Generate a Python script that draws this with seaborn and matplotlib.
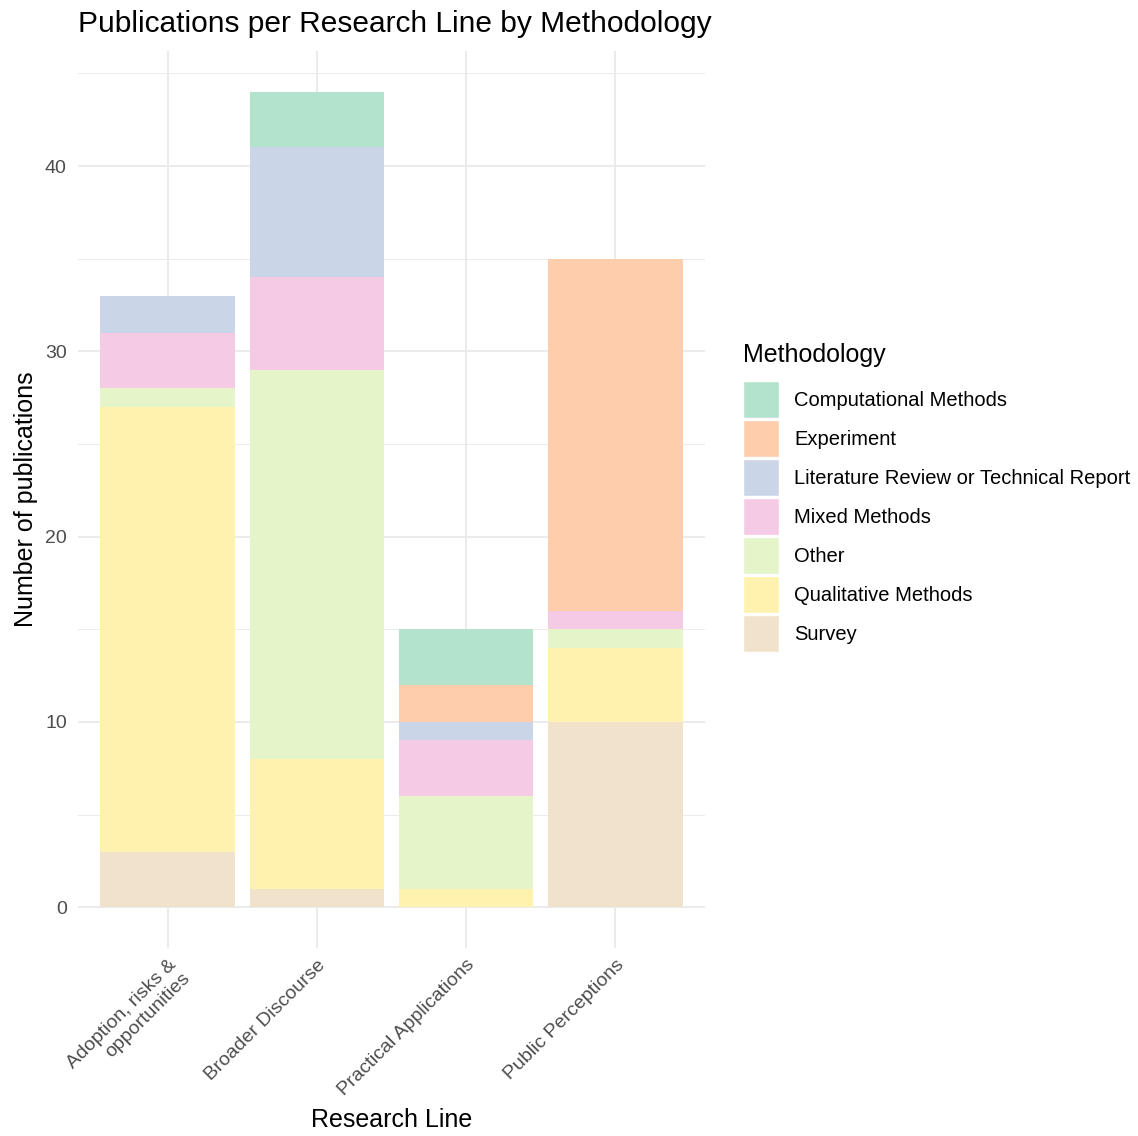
import numpy as np
import pandas as pd
import matplotlib
matplotlib.use("Agg")
import matplotlib.pyplot as plt
from matplotlib.patches import Patch
import seaborn as sns

# ---- data ----
research_lines = ["Adoption, risks &\nopportunities", "Broader Discourse",
                  "Practical Applications", "Public Perceptions"]
methodologies = ["Computational Methods", "Experiment",
                 "Literature Review or Technical Report", "Mixed Methods",
                 "Other", "Qualitative Methods", "Survey"]

computational = [0, 3, 3, 0]
experiment = [0, 0, 2, 19]
lit_review = [2, 7, 1, 0]
mixed = [3, 5, 3, 1]
other = [1, 21, 5, 1]
qualitative = [24, 7, 1, 4]
survey = [3, 1, 0, 10]

palette = ["#B3E2CD", "#FDCDAC", "#CBD5E8", "#F4CAE4",
           "#E6F5C9", "#FFF2AE", "#F1E2CC"]

df = pd.DataFrame({
    "Computational Methods": computational,
    "Experiment": experiment,
    "Literature Review or Technical Report": lit_review,
    "Mixed Methods": mixed,
    "Other": other,
    "Qualitative Methods": qualitative,
    "Survey": survey,
}, index=research_lines)

# stacking like ggplot: last level at the bottom
cum = df[methodologies[::-1]].cumsum(axis=1)

# ---- style ----
sns.set_style("white")
plt.rcParams["font.family"] = ["Liberation Sans", "DejaVu Sans"]
plt.rcParams["text.color"] = "black"

fig = plt.figure(figsize=(11.38, 11.36), dpi=100)
ax = fig.add_axes([0.0685, 0.1655, 0.551, 0.7895])

# draw cumulative totals, top layer first
for m, c in zip(methodologies, palette):
    sns.barplot(x=list(df.index), y=cum[m].values, color=c, saturation=1,
                width=0.9, ax=ax, zorder=3, edgecolor="none")

ax.set_xlim(-0.6, 3.6)
ax.set_ylim(-2.2, 46.2)
ax.set_yticks([0, 10, 20, 30, 40])
ax.set_yticks([5, 15, 25, 35, 45], minor=True)
ax.grid(which="major", color="#EBEBEB", linewidth=1.4, zorder=0)
ax.grid(which="minor", axis="y", color="#EBEBEB", linewidth=0.7, zorder=0)
ax.set_axisbelow(True)
for s in ax.spines.values():
    s.set_visible(False)
ax.tick_params(axis="both", which="both", length=0, colors="#4D4D4D",
               labelsize=14)
ax.tick_params(axis="y", pad=8)
ax.tick_params(axis="x", pad=6)
plt.setp(ax.get_xticklabels(), rotation=45, ha="right",
         rotation_mode="anchor", multialignment="right")

ax.set_xlabel("Research Line", fontsize=18, color="black", labelpad=6)
ax.set_ylabel("Number of publications", fontsize=18, color="black",
              labelpad=5)
ax.set_title("Publications per Research Line by Methodology", fontsize=21.5,
             loc="left", x=0.0, pad=14, color="black")

# legend: title as separate text so the gap to the keys matches
fig.text(0.653, 0.6875, "Methodology", fontsize=18, ha="left", va="center",
         color="black")
handles = [Patch(facecolor=c, edgecolor="white", linewidth=1, label=m)
           for m, c in zip(methodologies, palette)]
fig.legend(handles=handles, loc="upper left",
           bbox_to_anchor=(0.6525, 0.6646), frameon=False, fontsize=14.5,
           handlelength=1.8, handleheight=2.45,
           labelspacing=0.1, handletextpad=0.75,
           borderpad=0, borderaxespad=0, labelcolor="black")

fig.savefig("out.png", dpi=100)
